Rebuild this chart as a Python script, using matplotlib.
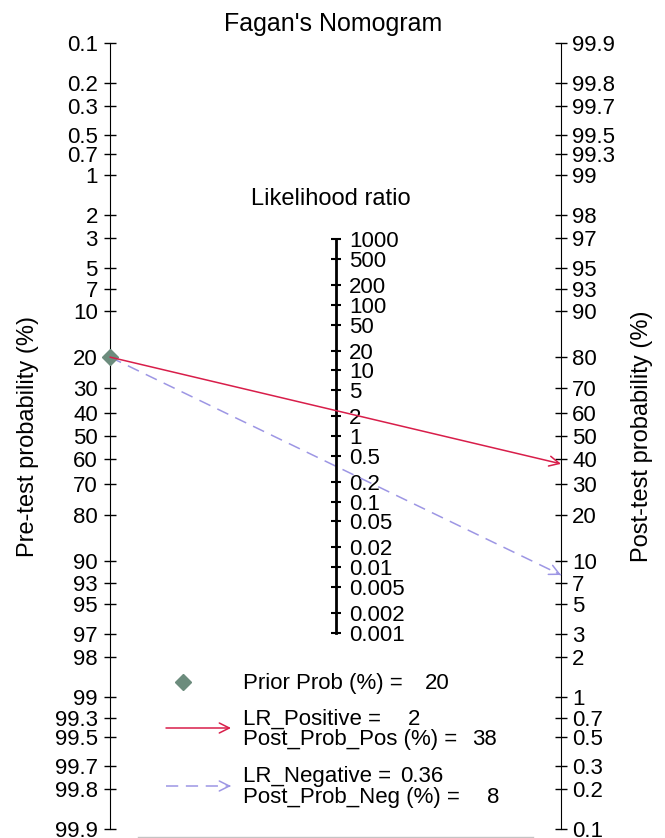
import numpy as np
import matplotlib
matplotlib.use("Agg")
import matplotlib.pyplot as plt
from matplotlib.lines import Line2D

plt.rcParams['font.family'] = ['Liberation Sans', 'DejaVu Sans']

# tick values of the three scales
pre_ticks = [0.1, 0.2, 0.3, 0.5, 0.7, 1, 2, 3, 5, 7, 10, 20, 30, 40, 50, 60,
             70, 80, 90, 93, 95, 97, 98, 99, 99.3, 99.5, 99.7, 99.8, 99.9]
post_ticks = [99.9, 99.8, 99.7, 99.5, 99.3, 99, 98, 97, 95, 93, 90, 80, 70, 60,
              50, 40, 30, 20, 10, 7, 5, 3, 2, 1, 0.7, 0.5, 0.3, 0.2, 0.1]
lr_ticks = [1000, 500, 200, 100, 50, 20, 10, 5, 2, 1, 0.5, 0.2, 0.1, 0.05,
            0.02, 0.01, 0.005, 0.002, 0.001]

# results
prior_prob = 20
lr_pos = 2
post_prob_pos = 38
lr_neg = 0.36
post_prob_neg = 8

RED = '#d81e4a'
LAV = '#9d96e4'
GRN = '#6c8c7d'
W, H = 665, 838


def logit(p):
    p = np.asarray(p, dtype=float) / 100.0
    return np.log(p / (1 - p))


def fx(px):
    return px / W


def fy(py):
    return 1 - py / H


fig = plt.figure(figsize=(W / 100, H / 100), dpi=100)
ax = fig.add_axes([0, 0, 1, 1])

# pixel layout: left axis x=110, right axis x=561, logit 0 at y=436, 56.9 px per unit
x_left, x_right, y_mid, scale = 110, 561, 436, 56.9
span = x_right - x_left
ax.set_xlim(-x_left / span, (W - x_left) / span)
ax.set_ylim((y_mid - H) / scale, y_mid / scale)
L = float(logit(99.9))

# left axis (pre-test)
for s in ['top', 'bottom', 'right']:
    ax.spines[s].set_visible(False)
ax.spines['left'].set_position(('data', 0))
ax.spines['left'].set_bounds(-L, L)
ax.set_xticks([])
ax.set_yticks(-logit(pre_ticks))
ax.set_yticklabels(['%g' % v for v in pre_ticks])
ax.tick_params(axis='y', direction='inout', length=8, width=1, labelsize=16, pad=4.7)

# right axis (post-test)
ax2 = ax.twinx()
ax2.set_ylim(ax.get_ylim())
for s in ['top', 'bottom', 'left']:
    ax2.spines[s].set_visible(False)
ax2.spines['right'].set_position(('data', 1))
ax2.spines['right'].set_bounds(-L, L)
ax2.set_yticks(logit(post_ticks))
ax2.set_yticklabels(['%g' % v for v in post_ticks])
ax2.tick_params(axis='y', direction='inout', length=8, width=1, labelsize=16, pad=4)

# middle axis (likelihood ratio)
ax3 = ax.twinx()
ax3.set_ylim(ax.get_ylim())
for s in ['top', 'bottom', 'left']:
    ax3.spines[s].set_visible(False)
ax3.spines['right'].set_position(('data', 0.5))
ax3.spines['right'].set_bounds(np.log(0.001) / 2, np.log(1000) / 2)
ax3.spines['right'].set_linewidth(2)
ax3.set_yticks(np.log(lr_ticks) / 2)
ax3.set_yticklabels(['%g' % v for v in lr_ticks])
ax3.tick_params(axis='y', direction='inout', length=6.7, width=1.5, labelsize=16, pad=6.5)

# the two lines from the prior
y0 = -float(logit(prior_prob))
y_pos = float(logit(post_prob_pos))
y_neg = float(logit(post_prob_neg))
ax3.annotate('', xy=(1, y_pos), xytext=(0, y0),
             arrowprops=dict(arrowstyle='->', color=RED, lw=1.1,
                             shrinkA=0, shrinkB=0, mutation_scale=18))
ax3.plot([0, 1], [y0, y_neg], color=LAV, lw=1.1, dashes=(8, 5))
d = 0.01
ax3.annotate('', xy=(1, y_neg), xytext=(1 - d, y_neg - d * (y_neg - y0)),
             arrowprops=dict(arrowstyle='->', color=LAV, lw=1.1,
                             shrinkA=0, shrinkB=0, mutation_scale=18))
ax3.plot([0], [y0], marker='D', color=GRN, markersize=8, clip_on=False)

# titles
fig.text(fx(333), fy(31), "Fagan's Nomogram", ha='center', va='baseline', fontsize=18)
fig.text(fx(331), fy(205), 'Likelihood ratio', ha='center', va='baseline', fontsize=17)
fig.text(fx(28), fy(436), 'Pre-test probability (%)', ha='center', va='center',
         rotation=90, fontsize=17)
fig.text(fx(642), fy(436), 'Post-test probability (%)', ha='center', va='center',
         rotation=90, fontsize=17)

# legend
fig.add_artist(Line2D([fx(183)], [fy(682)], marker='D', color=GRN, markersize=8,
                      transform=fig.transFigure))
fig.text(fx(243), fy(689), 'Prior Prob (%) =', va='baseline', fontsize=16)
fig.text(fx(425), fy(689), '%g' % prior_prob, va='baseline', fontsize=16)

fig.add_artist(plt.Annotation('', xy=(fx(231), fy(728)), xytext=(fx(166), fy(728)),
                              xycoords='figure fraction', textcoords='figure fraction',
                              arrowprops=dict(arrowstyle='->', color=RED, lw=1.1,
                                              shrinkA=0, shrinkB=0, mutation_scale=18)))
fig.text(fx(243), fy(725), 'LR_Positive =', va='baseline', fontsize=16)
fig.text(fx(408), fy(725), '%g' % lr_pos, va='baseline', fontsize=16)
fig.text(fx(243), fy(745), 'Post_Prob_Pos (%) =', va='baseline', fontsize=16)
fig.text(fx(472), fy(745), '%g' % post_prob_pos, va='baseline', fontsize=16)

fig.add_artist(Line2D([fx(166), fx(228)], [fy(786), fy(786)], color=LAV, lw=1.1,
                      dashes=(8, 5), transform=fig.transFigure))
fig.add_artist(plt.Annotation('', xy=(fx(231), fy(786)), xytext=(fx(229), fy(786)),
                              xycoords='figure fraction', textcoords='figure fraction',
                              arrowprops=dict(arrowstyle='->', color=LAV, lw=1.1,
                                              shrinkA=0, shrinkB=0, mutation_scale=18)))
fig.text(fx(243), fy(782), 'LR_Negative =', va='baseline', fontsize=16)
fig.text(fx(400), fy(782), '%g' % lr_neg, va='baseline', fontsize=16)
fig.text(fx(243), fy(803), 'Post_Prob_Neg (%) =', va='baseline', fontsize=16)
fig.text(fx(487), fy(803), '%g' % post_prob_neg, va='baseline', fontsize=16)

fig.add_artist(Line2D([fx(138), fx(533)], [fy(836.5), fy(836.5)], color='#c4c4c4',
                      lw=1, transform=fig.transFigure))

fig.savefig('out.png', dpi=100)
